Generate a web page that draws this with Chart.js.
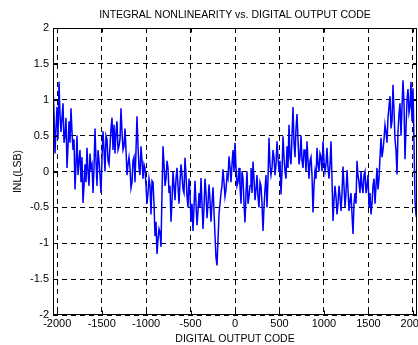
<!DOCTYPE html>
<html>
<head>
<meta charset="utf-8">
<script src="https://cdn.jsdelivr.net/npm/chart.js@4"></script>
<style>
  html, body { margin: 0; padding: 0; background: #fff; }
  #wrap { width: 418px; height: 345px; }
</style>
</head>
<body>
<div id="wrap"><canvas id="inlChart" width="418" height="345"></canvas></div>
<script>
// INL, left to right (one reading every ~11 codes)
const inl = [
  1.2, 0.8, 0.25, 0.6, 0.9, 0.45, 1.25, 0.8, 0.55, 0.75,
  0.95, 0.4, 0.5, 0.75, 0.05, 0.35, 0.7, 0.4, 0.88, 0.55,
  0.3, 0.45, -0.25, 0.1, 0.5, -0.05, 0.15, 0.3, -0.15, 0.2,
  -0.44, -0.2, 0.1, -0.15, 0.33, 0.0, -0.2, 0.25, 0.05, 0.1,
  -0.3, 0.05, 0.6, 0.15, -0.2, 0.3, 0.15, -0.05, -0.3, 0.2,
  0.56, 0.3, 0.0, 0.5, 0.45, 0.15, 0.1, 0.35, 0.6, 0.75,
  0.3, 0.65, 0.25, 0.55, 0.7, 0.3, 0.35, 0.45, 0.88, 0.55,
  0.3, 0.35, 0.6, 0.3, -0.05, 0.1, 0.2, 0.05, -0.23, -0.15,
  0.15, 0.2, -0.15, 0.3, 0.77, 0.35, 0.05, -0.05, 0.35, 0.15,
  -0.1, 0.1, 0.05, -0.2, -0.45, -0.3, -0.1, -0.2, -0.6, -0.13,
  -0.15, -0.45, -0.9, -0.7, -1.15, -0.95, -0.8, -0.85, -1.05, -0.3,
  0.35, 0.1, -0.2, -0.1, 0.15, 0.05, -0.3, -0.2, -0.7, -0.4,
  0.0, -0.2, -0.4, -0.1, 0.05, -0.2, -0.45, -0.15, 0.1, -0.05,
  -0.25, -0.3, 0.19, -0.05, -0.35, -0.5, -0.1, -0.3, -0.7, -0.45,
  -0.83, -0.5, -0.13, -0.45, -0.75, -0.55, -0.3, -0.5, -0.09, -0.45,
  -0.8, -0.5, -0.1, -0.3, -0.65, -0.45, -0.18, -0.4, -0.7, -0.45,
  -0.22, -0.55, -0.9, -1.2, -1.31, -0.95, -0.6, -0.45, -0.3, -0.2,
  0.03, -0.15, -0.35, -0.25, -0.05, -0.1, 0.21, 0.05, -0.15, 0.1,
  0.3, 0.0, 0.4, 0.05, -0.2, -0.15, 0.05, -0.2, -0.45, 0.0,
  -0.1, -0.45, -0.71, -0.3, 0.0, -0.45, -0.35, -0.2, 0.05, -0.3,
  0.14, -0.1, -0.4, -0.25, -0.05, -0.35, -0.5, -0.15, -0.2, -0.45,
  -0.83, -0.5, -0.25, -0.05, -0.5, -0.1, 0.47, 0.1, -0.05, 0.05,
  0.3, 0.2, -0.05, 0.1, 0.42, 0.2, 0.0, 0.15, -0.32, 0.0,
  0.49, 0.2, 0.0, -0.1, 0.35, 0.05, 0.65, 0.2, 0.1, 0.5,
  0.9, 0.4, 0.2, 0.6, 0.8, 0.45, 0.1, 0.2, 0.5, 0.15,
  0.05, 0.3, 0.3, 0.0, 0.42, 0.15, -0.1, 0.15, 0.2, -0.05,
  -0.57, -0.2, 0.0, -0.1, 0.33, 0.1, 0.0, 0.25, 0.2, 0.0,
  0.42, 0.15, 0.0, 0.1, 0.33, 0.05, -0.1, 0.1, 0.42, -0.1,
  -0.69, -0.4, -0.2, -0.35, -0.6, -0.45, -0.2, -0.35, -0.55, -0.3,
  0.07, -0.2, -0.5, -0.3, 0.02, -0.25, -0.55, -0.4, -0.3, -0.6,
  -0.87, -0.45, -0.3, -0.45, 0.15, -0.05, -0.15, -0.3, 0.0, -0.2,
  -0.3, -0.05, 0.0, -0.3, -0.2, -0.05, -0.5, -0.3, -0.6, -0.45,
  -0.2, -0.1, -0.45, -0.2, 0.05, -0.25, -0.1, 0.2, 0.47, 0.2,
  0.3, 0.45, 0.65, 0.55, 0.4, 0.75, 0.9, 1.05, 0.6, 0.7,
  1.21, 0.85, 0.45, 0.3, -0.04, 0.55, 0.8, 0.95, 0.5, 0.9,
  1.27, 0.95, 0.17, 0.6, 1.0, 1.15, 0.82, 0.9, 1.25, 0.7,
  1.16, 0.4, -0.4, -0.6, -0.67
];
const codeMin = -2048;
const codeMax = 2047;
const xTicks = [-2000, -1500, -1000, -500, 0, 500, 1000, 1500, 2000];
const yTicks = [-2, -1.5, -1, -0.5, 0, 0.5, 1, 1.5, 2];

const codeStep = (codeMax - codeMin) / (inl.length - 1);
const points = inl.map((v, i) => ({ x: codeMin + i * codeStep, y: v }));

const FONT = "'Liberation Sans', Arial, sans-serif";

// matlab style box + inward tick marks
const axesBox = {
  id: "axesBox",
  afterDraw(chart) {
    const { ctx, chartArea: a, scales } = chart;
    const L = Math.round(a.left) + 0.5, R = Math.round(a.right) - 0.5;
    const T = Math.round(a.top) + 0.5, B = Math.round(a.bottom) - 0.5;
    ctx.save();
    ctx.strokeStyle = "#000";
    ctx.lineWidth = 1;
    ctx.setLineDash([]);
    ctx.strokeRect(L, T, R - L, B - T);
    ctx.beginPath();
    xTicks.forEach(v => {
      const px = Math.round(scales.x.getPixelForValue(v)) + 0.5;
      ctx.moveTo(px, B); ctx.lineTo(px, B - 4);
      ctx.moveTo(px, T); ctx.lineTo(px, T + 4);
    });
    yTicks.forEach(v => {
      const py = Math.round(scales.y.getPixelForValue(v)) + 0.5;
      ctx.moveTo(L, py); ctx.lineTo(L + 4, py);
      ctx.moveTo(R, py); ctx.lineTo(R - 4, py);
    });
    ctx.stroke();
    ctx.restore();
  }
};

new Chart(document.getElementById("inlChart"), {
  type: "line",
  data: {
    datasets: [{
      data: points,
      borderColor: "#0000ff",
      borderWidth: 1.5,
      pointRadius: 0,
      tension: 0,
      fill: false
    }]
  },
  options: {
    responsive: false,
    animation: false,
    layout: { padding: { left: 0, right: 1, top: 0, bottom: 0 } },
    plugins: {
      legend: { display: false },
      tooltip: { enabled: false },
      title: {
        display: true,
        fullSize: false,
        text: "INTEGRAL NONLINEARITY vs. DIGITAL OUTPUT CODE",
        color: "#000",
        font: { family: FONT, size: 10.5, weight: "normal" },
        padding: { top: 9, bottom: 6.4 }
      }
    },
    scales: {
      x: {
        type: "linear",
        min: codeMin,
        max: codeMax,
        afterBuildTicks: s => { s.ticks = xTicks.map(v => ({ value: v })); },
        afterFit: s => { s.height = 30; s.paddingLeft = 0; s.paddingRight = 0; },
        ticks: {
          color: "#000",
          padding: 2,
          maxRotation: 0,
          autoSkip: false,
          font: { family: FONT, size: 11 },
          callback: v => String(v)
        },
        grid: { color: "#000", lineWidth: 1, drawTicks: false },
        border: { display: false, dash: [5, 4] },
        title: {
          display: true,
          text: "DIGITAL OUTPUT CODE",
          color: "#000",
          font: { family: FONT, size: 10.5 },
          padding: { top: 0, bottom: 0 }
        }
      },
      y: {
        min: -2,
        max: 2,
        afterBuildTicks: s => { s.ticks = yTicks.map(v => ({ value: v })); },
        afterFit: s => { s.width = 53; s.paddingTop = 0; s.paddingBottom = 0; },
        ticks: {
          color: "#000",
          padding: 4,
          font: { family: FONT, size: 11 },
          callback: v => String(v)
        },
        grid: { color: "#000", lineWidth: 1, drawTicks: false },
        border: { display: false, dash: [5, 4] },
        title: {
          display: true,
          text: "INL(LSB)",
          color: "#000",
          font: { family: FONT, size: 10.5 },
          padding: { top: 12, bottom: 0 }
        }
      }
    }
  },
  plugins: [axesBox]
});
</script>
</body>
</html>
